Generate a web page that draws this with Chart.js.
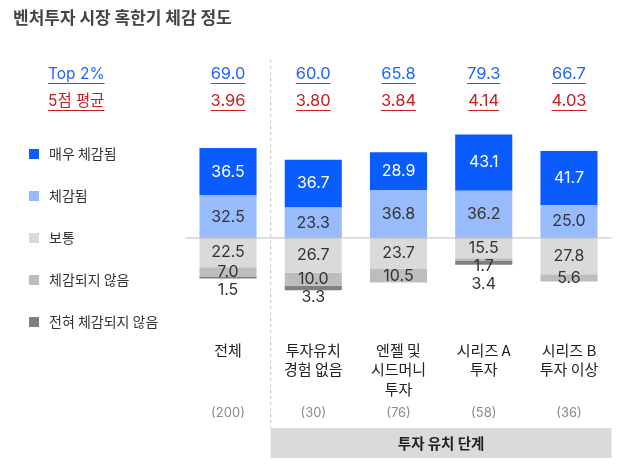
<!DOCTYPE html>
<html>
<head>
<meta charset="utf-8">
<script src="https://cdn.jsdelivr.net/npm/chart.js@4"></script>
<style>
  html, body { margin: 0; padding: 0; background: #fff; }
  #wrap { width: 620px; height: 468px; position: relative; }
</style>
</head>
<body>
<div id="wrap"><canvas id="myBarChart" width="620" height="468"></canvas></div>
<script>
const title = '벤처투자 시장 혹한기 체감 정도';
const categories = [['전체'], ['투자유치', '경험 없음'], ['엔젤 및', '시드머니', '투자'], ['시리즈 A', '투자'], ['시리즈 B', '투자 이상']];
const sampleSizes = ['(200)', '(30)', '(76)', '(58)', '(36)'];
const top2 = ['69.0', '60.0', '65.8', '79.3', '66.7'];
const avg5 = ['3.96', '3.80', '3.84', '4.14', '4.03'];
const groupLabel = '투자 유치 단계';

const veryFelt = [36.5, 36.7, 28.9, 43.1, 41.7];
const felt = [32.5, 23.3, 36.8, 36.2, 25.0];
const neutral = [22.5, 26.7, 23.7, 15.5, 27.8];
const notFelt = [7.0, 10.0, 10.5, 1.7, 5.6];
const notAtAll = [1.5, 3.3, 0, 3.4, 0];

const legendItems = [
  { label: '매우 체감됨', color: '#0a5cff' },
  { label: '체감됨', color: '#98bbfb' },
  { label: '보통', color: '#dadada' },
  { label: '체감되지 않음', color: '#bdbdbd' },
  { label: '전혀 체감되지 않음', color: '#7f7f7f' }
];

const FONT = "Inter, 'Noto Sans CJK KR', sans-serif";
const KFONT = "'Noto Sans CJK KR', Inter, sans-serif";

function underlineText(ctx, text, x, y, color) {
  ctx.fillStyle = color;
  ctx.fillText(text, x, y);
  const w = ctx.measureText(text).width;
  let x0 = x;
  if (ctx.textAlign === 'center') x0 = x - w / 2;
  ctx.strokeStyle = color;
  ctx.lineWidth = 1;
  ctx.beginPath();
  ctx.moveTo(x0, y + 9.5);
  ctx.lineTo(x0 + w, y + 9.5);
  ctx.stroke();
}

const decorations = {
  id: 'decorations',
  beforeDatasetsDraw(chart) {
    const ctx = chart.ctx;
    const area = chart.chartArea;
    const xs = chart.scales.x;

    ctx.save();
    // title
    ctx.font = 'bold 17px ' + KFONT;
    ctx.fillStyle = '#444';
    ctx.textAlign = 'left';
    ctx.textBaseline = 'middle';
    ctx.fillText(title, 13, 18);

    // dashed separator
    const sepX = (xs.getPixelForValue(0) + xs.getPixelForValue(1)) / 2;
    ctx.strokeStyle = '#c8c8c8';
    ctx.setLineDash([3, 3]);
    ctx.beginPath();
    ctx.moveTo(sepX, 60);
    ctx.lineTo(sepX, 428);
    ctx.stroke();
    ctx.setLineDash([]);

    // top rows
    ctx.font = '15.5px ' + FONT;
    ctx.textAlign = 'left';
    underlineText(ctx, 'Top 2%', 48, 74, '#1f64ff');
    underlineText(ctx, '5점 평균', 48, 101, '#c81e1e');
    ctx.font = '16.5px ' + FONT;
    ctx.textAlign = 'center';
    top2.forEach((t, i) => underlineText(ctx, t, xs.getPixelForValue(i), 74, '#1f64ff'));
    avg5.forEach((t, i) => underlineText(ctx, t, xs.getPixelForValue(i), 101, '#c81e1e'));

    // legend
    ctx.textAlign = 'left';
    ctx.font = '14px ' + KFONT;
    legendItems.forEach((item, i) => {
      const y = 154 + i * 42;
      ctx.fillStyle = item.color;
      ctx.fillRect(29, y - 5, 10, 10);
      ctx.fillStyle = '#333';
      ctx.fillText(item.label, 49, y);
    });

    // category labels and counts
    ctx.textAlign = 'center';
    categories.forEach((lines, i) => {
      const x = xs.getPixelForValue(i);
      ctx.font = '15px ' + KFONT;
      ctx.fillStyle = '#222';
      lines.forEach((l, j) => ctx.fillText(l, x, 350 + j * 19.5));
      ctx.font = '13px ' + FONT;
      ctx.fillStyle = '#8a8a8a';
      ctx.fillText(sampleSizes[i], x, 413);
    });

    // group box
    ctx.fillStyle = '#dadada';
    ctx.fillRect(sepX, 428, area.right - sepX, 30);
    ctx.fillStyle = '#222';
    ctx.font = 'bold 14.5px ' + KFONT;
    ctx.fillText(groupLabel, (sepX + area.right) / 2, 443);
    ctx.restore();
  },
  afterDatasetsDraw(chart) {
    const ctx = chart.ctx;
    const area = chart.chartArea;
    const zero = chart.scales.y.getPixelForValue(0);
    ctx.save();
    // baseline
    ctx.strokeStyle = '#bdbdbd';
    ctx.lineWidth = 1;
    ctx.beginPath();
    ctx.moveTo(area.left, zero);
    ctx.lineTo(area.right, zero);
    ctx.stroke();

    // value labels, small ones pushed below the stack
    ctx.font = '16px ' + FONT;
    ctx.textAlign = 'center';
    ctx.textBaseline = 'middle';
    const n = categories.length;
    for (let i = 0; i < n; i++) {
      let prev = null;
      chart.data.datasets.forEach((ds, d) => {
        const raw = ds.raw[i];
        if (!raw) return;
        const el = chart.getDatasetMeta(d).data[i];
        let y = (el.y + el.base) / 2;
        if (ds.side === 'neg') {
          if (prev !== null) y = Math.max(y, prev + 18);
          prev = y;
        }
        ctx.fillStyle = d === 1 ? '#fff' : '#333';
        ctx.fillText(raw.toFixed(1), el.x, y);
      });
    }
    ctx.restore();
  }
};

const ctx = document.getElementById('myBarChart').getContext('2d');
const chart = new Chart(ctx, {
  type: 'bar',
  data: {
    labels: categories.map(c => c.join(' ')),
    datasets: [
      { label: '체감됨', data: felt, raw: felt, side: 'pos', backgroundColor: '#98bbfb' },
      { label: '매우 체감됨', data: veryFelt, raw: veryFelt, side: 'pos', backgroundColor: '#0a5cff' },
      { label: '보통', data: neutral.map(v => -v), raw: neutral, side: 'neg', backgroundColor: '#dadada' },
      { label: '체감되지 않음', data: notFelt.map(v => -v), raw: notFelt, side: 'neg', backgroundColor: '#bdbdbd' },
      { label: '전혀 체감되지 않음', data: notAtAll.map(v => -v), raw: notAtAll, side: 'neg', backgroundColor: '#7f7f7f' }
    ]
  },
  options: {
    responsive: false,
    animation: false,
    layout: { padding: { left: 185.4, right: 8.4, top: 133.6, bottom: 170 } },
    datasets: { bar: { barPercentage: 0.67, categoryPercentage: 1, borderWidth: 0 } },
    plugins: { legend: { display: false }, tooltip: { enabled: false } },
    scales: {
      x: { stacked: true, display: false },
      y: { stacked: true, display: false, min: -46, max: 80 }
    }
  },
  plugins: [decorations]
});
</script>
</body>
</html>
